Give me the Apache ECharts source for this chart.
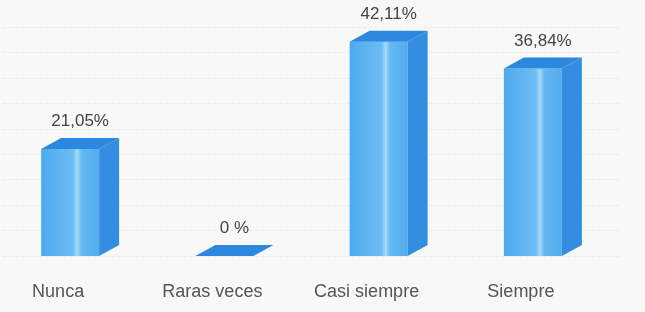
<!DOCTYPE html>
<html lang="es">
<head>
    <meta charset="UTF-8">
    <script src="https://cdn.jsdelivr.net/npm/echarts@6/dist/echarts.min.js"></script>
    <title>Frecuencia</title>
    <style>
        html, body { margin: 0; padding: 0; background: #f8f8f8; }
        #main { width: 645px; height: 312px; }
    </style>
</head>
<body>
    <div id="main"></div>
    <script>
        var categories = ['Nunca', 'Raras veces', 'Casi siempre', 'Siempre'];
        var values = [21.05, 0, 42.11, 36.84];
        var valueLabels = ['21,05%', '0 %', '42,11%', '36,84%'];

        var chart = echarts.init(document.getElementById('main'));

        var frontW = 58, depthX = 20, depthY = 11;

        function renderBar(params, api) {
            var idx = api.value(0);
            var top = api.coord([idx, api.value(1)]);
            var base = api.coord([idx, 0]);
            var x0 = top[0] - (frontW + depthX) / 2;
            var x1 = x0 + frontW;
            var yTop = top[1], yBase = base[1];
            var children = [];
            if (yBase - yTop > 1) {
                children.push({
                    type: 'rect',
                    shape: { x: x0, y: yTop, width: frontW, height: yBase - yTop },
                    style: {
                        fill: new echarts.graphic.LinearGradient(0, 0, 1, 0, [
                            { offset: 0, color: '#4eaaee' },
                            { offset: 0.55, color: '#6cbdf4' },
                            { offset: 0.62, color: '#a6daf9' },
                            { offset: 0.7, color: '#64b8f2' },
                            { offset: 1, color: '#52acee' }
                        ])
                    }
                });
                children.push({
                    type: 'polygon',
                    shape: { points: [[x1, yTop], [x1 + depthX, yTop - depthY], [x1 + depthX, yBase - depthY], [x1, yBase]] },
                    style: { fill: '#338de0' }
                });
            }
            children.push({
                type: 'polygon',
                shape: { points: [[x0, yTop], [x1, yTop], [x1 + depthX, yTop - depthY], [x0 + depthX, yTop - depthY]] },
                style: { fill: '#2c87de' }
            });
            children.push({
                type: 'text',
                style: {
                    text: valueLabels[params.dataIndex],
                    x: top[0],
                    y: yTop - depthY - 8,
                    align: 'center',
                    verticalAlign: 'bottom',
                    fill: '#444',
                    font: '17px "Liberation Sans", Arial, sans-serif'
                }
            });
            return { type: 'group', children: children };
        }

        var option = {
            backgroundColor: '#f8f8f8',
            grid: { left: 3, right: 25, top: 27, bottom: 56 },
            xAxis: {
                type: 'category',
                data: categories,
                axisLine: { show: false },
                axisTick: { show: false },
                axisLabel: {
                    margin: 27,
                    color: '#555',
                    fontSize: 18,
                    fontFamily: 'Liberation Sans',
                    padding: [0, 44, 0, 0]
                }
            },
            yAxis: {
                type: 'value',
                min: 0,
                max: 45,
                interval: 5,
                axisLabel: { show: false },
                axisLine: { show: false },
                axisTick: { show: false },
                splitLine: { lineStyle: { color: '#ececec', type: 'dashed' } }
            },
            series: [{
                type: 'custom',
                renderItem: renderBar,
                clip: false,
                data: values.map(function (v, i) { return [i, v]; })
            }]
        };

        chart.setOption(option);
    </script>
</body>
</html>
